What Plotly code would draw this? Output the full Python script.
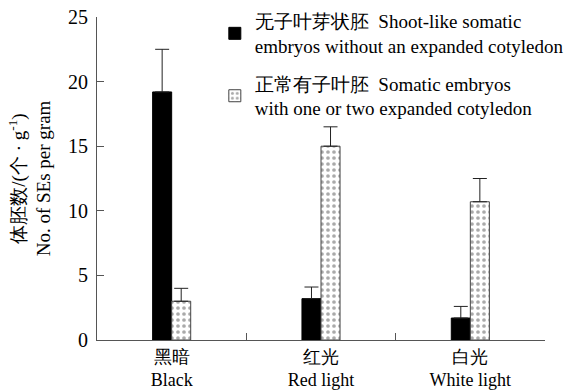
import plotly.graph_objects as go

# Light treatments and somatic embryo counts (per gram)
categories = ["黑暗<br>Black", "红光<br>Red light", "白光<br>White light"]
shoot_like = [19.2, 3.2, 1.7]
shoot_like_err = [3.3, 0.9, 0.9]
normal = [3.0, 15.0, 10.7]
normal_err = [1.0, 1.5, 1.8]

zero = [0, 0, 0]
serif = "Times New Roman, Liberation Serif, Tinos, serif"
dark = "#222222"

fig = go.Figure()
fig.add_trace(go.Bar(
    x=categories, y=shoot_like, legendgroup="shoot",
    name="无子叶芽状胚  Shoot-like somatic<br>embryos without an expanded cotyledon",
    marker=dict(color="black", line=dict(color="black", width=1)),
    error_y=dict(type="data", symmetric=False, array=shoot_like_err, arrayminus=zero,
                 color=dark, thickness=1, width=7),
))
fig.add_trace(go.Bar(
    x=categories, y=normal, legendgroup="normal",
    name="正常有子叶胚  Somatic embryos<br>with one or two expanded cotyledon",
    marker=dict(color="white", line=dict(color="#444444", width=1),
                pattern=dict(shape=".", size=6, solidity=0.3, fgcolor="#555555", bgcolor="white")),
    error_y=dict(type="data", symmetric=False, array=normal_err, arrayminus=zero,
                 color=dark, thickness=1, width=7),
))

fig.update_layout(
    width=586, height=390,
    margin=dict(l=97, r=41, t=17, b=50, autoexpand=False),
    paper_bgcolor="white", plot_bgcolor="white",
    barmode="group", bargap=0.745, bargroupgap=0,
    font=dict(family=serif, size=18, color="black"),
    showlegend=True,
    legend=dict(x=0.263, y=1.046, xanchor="left", yanchor="top",
                bgcolor="rgba(0,0,0,0)", font=dict(size=19, family=serif),
                tracegroupgap=10, itemwidth=30),
    xaxis=dict(showline=True, linecolor="#555555", linewidth=1, automargin=False,
               ticks="inside", tickson="boundaries", ticklen=7, tickcolor="#555555",
               tickfont=dict(size=18, family=serif), showgrid=False, zeroline=False),
    yaxis=dict(range=[0, 25], dtick=5, showline=True, linecolor="#555555", linewidth=1,
               automargin=False, ticklabelstandoff=4,
               ticks="inside", ticklen=7, tickcolor="#555555",
               tickfont=dict(size=20, family=serif), showgrid=False, zeroline=False,
               title=dict(text="体胚数/(个 · g<sup>-1</sup>)<br>No. of SEs per gram",
                          font=dict(size=19, family=serif), standoff=12)),
)

fig.write_html("out.html")
